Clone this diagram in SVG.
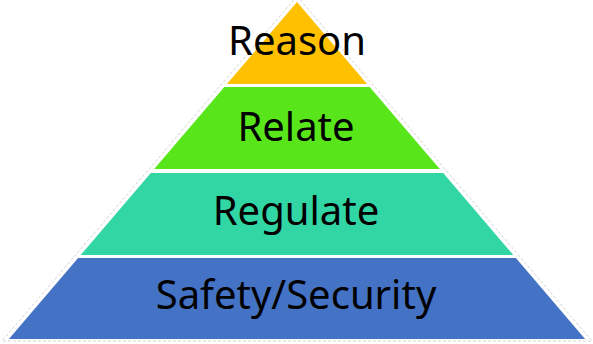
<svg xmlns="http://www.w3.org/2000/svg" width="593" height="344" viewBox="0 0 593 344">
<style>
.lbl{font-family:"Noto Sans","Liberation Sans",sans-serif;font-size:40px;fill:#000;text-anchor:middle}
.outline{fill:none;stroke:#d4d4d4;stroke-width:1;stroke-dasharray:3 2}
</style>
<rect width="593" height="344" fill="#fff"/>
<polygon class="outline" points="297,-4 592,341 2,341"/>
<g id="reason">
<polygon points="297,2 367.1,84 226.9,84" fill="#FFC000"/>
<text class="lbl" x="297" y="55">Reason</text>
</g>
<g id="relate">
<polygon points="224.3,87 369.7,87 439.8,169 154.2,169" fill="#58E61A"/>
<text class="lbl" x="296" y="141">Relate</text>
</g>
<g id="regulate">
<polygon points="150.8,173 443.2,173 513.3,255 80.7,255" fill="#32D6A5"/>
<text class="lbl" x="296" y="225">Regulate</text>
</g>
<g id="safety">
<polygon points="78.1,258 515.9,258 585.1,339 8.9,339" fill="#4472C4"/>
<text class="lbl" x="296" y="309">Safety/Security</text>
</g>
<g id="connectors"/>
</svg>
